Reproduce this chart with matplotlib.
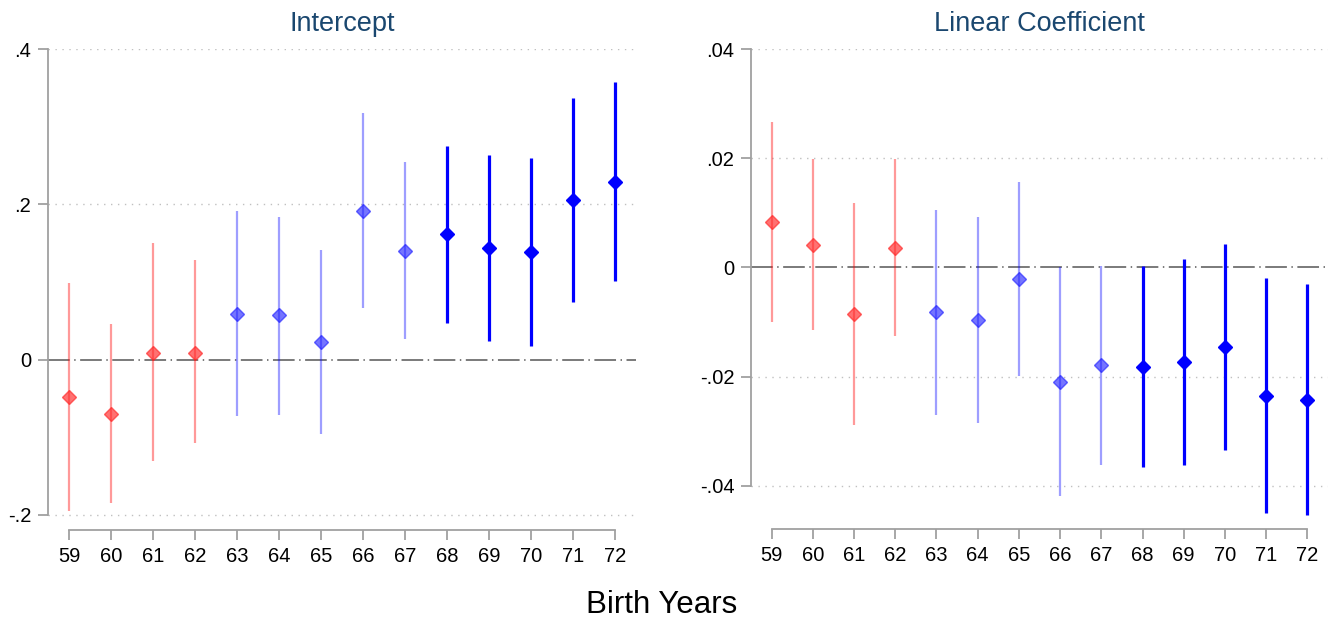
import matplotlib
matplotlib.use("Agg")
import matplotlib.pyplot as plt

plt.rcParams['font.family'] = ['Liberation Sans', 'DejaVu Sans']

years = [59, 60, 61, 62, 63, 64, 65, 66, 67, 68, 69, 70, 71, 72]
groups = ['red', 'red', 'red', 'red', 'light', 'light', 'light', 'light', 'light',
          'dark', 'dark', 'dark', 'dark', 'dark']

int_est = [-0.048, -0.070, 0.009, 0.009, 0.059, 0.057, 0.022, 0.191, 0.140,
           0.162, 0.144, 0.139, 0.206, 0.229]
int_lo = [-0.195, -0.185, -0.130, -0.108, -0.073, -0.071, -0.096, 0.066, 0.026,
          0.047, 0.024, 0.018, 0.074, 0.101]
int_hi = [0.098, 0.046, 0.150, 0.128, 0.192, 0.184, 0.141, 0.317, 0.254,
          0.275, 0.264, 0.259, 0.337, 0.358]

lin_est = [0.0083, 0.0042, -0.0086, 0.0036, -0.0082, -0.0096, -0.0022, -0.0209, -0.0179,
           -0.0182, -0.0173, -0.0145, -0.0235, -0.0243]
lin_lo = [-0.0099, -0.0114, -0.0288, -0.0126, -0.0270, -0.0284, -0.0199, -0.0418, -0.0362,
          -0.0365, -0.0362, -0.0334, -0.0449, -0.0454]
lin_hi = [0.0266, 0.0199, 0.0118, 0.0199, 0.0106, 0.0093, 0.0156, 0.0000, 0.0003,
          0.0003, 0.0016, 0.0043, -0.0019, -0.0031]

int_ticks = [-0.2, 0, 0.2, 0.4]
int_ticklabels = ['-.2', '0', '.2', '.4']
lin_ticks = [-0.04, -0.02, 0, 0.02, 0.04]
lin_ticklabels = ['-.04', '-.02', '0', '.02', '.04']

styles = {
    'red':   dict(line=(1, 0, 0, 0.40), mk=(1, 0.15, 0.15, 0.65), lw=1.6),
    'light': dict(line=(0, 0, 1, 0.38), mk=(0.1, 0.1, 1, 0.60), lw=1.6),
    'dark':  dict(line=(0, 0, 1, 1.0), mk=(0, 0, 1, 1.0), lw=2.3),
}

fig = plt.figure(figsize=(13.32, 6.19), dpi=100)
ax1 = fig.add_axes([0.036, 0.1438, 0.4414, 0.777])
ax2 = fig.add_axes([0.5638, 0.1454, 0.4332, 0.7754])

title_color = '#1a476f'
axis_gray = '#a0a0a0'


def draw(ax, est, lo, hi, ticks, ticklabels, ylim, title):
    ax.set_xlim(58.5, 72.5)
    ax.set_ylim(*ylim)
    for t in ticks:
        if t == 0:
            ax.axhline(0, color='#707070', lw=1.3, dashes=(12, 2.5, 0.8, 2.5), zorder=1)
        else:
            ax.axhline(t, color='#c0c0c0', lw=1.0, dashes=(1, 4), zorder=0)
    for x, e, l, h, g in zip(years, est, lo, hi, groups):
        s = styles[g]
        ax.vlines(x, l, h, color=s['line'], lw=s['lw'], zorder=2)
        ax.plot(x, e, marker='D', ms=7.5, mfc=s['mk'], mec=s['mk'], mew=1.0,
                linestyle='none', zorder=3)
    for side in ['top', 'right']:
        ax.spines[side].set_visible(False)
    ax.spines['left'].set_bounds(ticks[0], ticks[-1])
    ax.spines['bottom'].set_bounds(59, 72)
    for side in ['left', 'bottom']:
        ax.spines[side].set_color(axis_gray)
        ax.spines[side].set_linewidth(1.3)
    ax.set_yticks(ticks)
    ax.set_yticklabels(ticklabels)
    ax.set_xticks(years)
    ax.set_xticklabels([str(y) for y in years])
    ax.tick_params(axis='both', colors=axis_gray, labelcolor='black',
                   labelsize=14.5, length=7, width=1.3)
    ax.tick_params(axis='x', pad=5)
    ax.tick_params(axis='y', pad=5)
    ax.set_title(title, fontsize=19.5, color=title_color, pad=13)


draw(ax1, int_est, int_lo, int_hi, int_ticks, int_ticklabels, (-0.2195, 0.4), 'Intercept')
draw(ax2, lin_est, lin_lo, lin_hi, lin_ticks, lin_ticklabels, (-0.0479, 0.04), 'Linear Coefficient')

fig.text(0.497, 1 - 605 / 619, 'Birth Years', fontsize=22.5, ha='center', va='center')

fig.savefig('out.png', dpi=100)
